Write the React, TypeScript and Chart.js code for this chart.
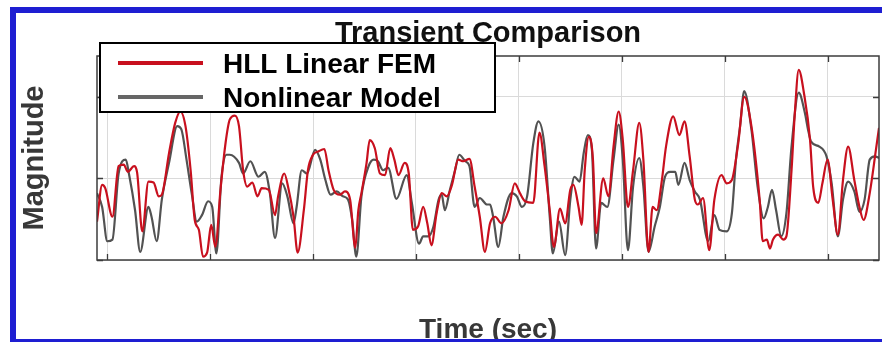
import React, { useEffect, useRef } from "react";
import { Chart, registerables } from "chart.js";

Chart.register(...registerables);

// ---- Data (time in sec, magnitude) ----
const hllTime = [
  -0.1, -0.05, -0.02, 0.05, 0.11, 0.16, 0.2, 0.26, 0.29, 0.34, 0.4, 0.45, 0.5, 0.53, 0.6, 0.66, 0.71, 0.76, 0.81,
  0.85, 0.89, 0.93, 0.97, 1.01, 1.05, 1.1, 1.15, 1.19, 1.24, 1.28, 1.32, 1.36, 1.41, 1.46, 1.5, 1.57, 1.63, 1.66,
  1.72, 1.76, 1.81, 1.85, 1.91, 1.95, 2.0, 2.05, 2.11, 2.15, 2.2, 2.26, 2.31, 2.36, 2.41, 2.44, 2.47, 2.52, 2.55,
  2.6, 2.65, 2.7, 2.75, 2.79, 2.83, 2.89, 2.93, 2.97, 3.02, 3.07, 3.11, 3.15, 3.2, 3.25, 3.3, 3.35, 3.41, 3.46,
  3.52, 3.57, 3.62, 3.67, 3.72, 3.77, 3.83, 3.9, 3.96, 4.01, 4.06, 4.14, 4.2, 4.25, 4.3, 4.34, 4.4, 4.45, 4.5,
  4.53, 4.58, 4.61, 4.64, 4.68, 4.72, 4.75, 4.82, 4.87, 4.92, 4.97, 5.01, 5.06, 5.11, 5.17, 5.21, 5.26, 5.3, 5.34,
  5.39, 5.43, 5.5, 5.56, 5.61, 5.66, 5.71, 5.74, 5.79, 5.85, 5.9, 5.97, 6.02, 6.07, 6.13, 6.19, 6.26, 6.34, 6.37,
  6.41, 6.44, 6.47, 6.52, 6.57, 6.6, 6.65, 6.68, 6.72, 6.77, 6.83, 6.86, 6.91, 6.95, 7.0, 7.05, 7.1, 7.15, 7.2,
  7.26, 7.31, 7.35, 7.41, 7.47, 7.5,
];
const hllMag = [
  0.47, 0.92, 0.88, 0.53, 1.15, 1.17, 1.08, 1.15, 1.07, 0.35, 0.96, 0.95, 0.78, 0.8, 1.31, 1.68, 1.82, 1.64, 1.1,
  0.49, 0.37, 0.04, 0.09, 0.43, 0.16, 0.86, 1.44, 1.72, 1.77, 1.64, 1.1, 0.9, 0.95, 0.78, 0.88, 0.86, 0.55, 0.78,
  1.06, 0.88, 0.53, 0.09, 0.61, 1.1, 1.29, 1.33, 1.36, 1.1, 0.86, 0.8, 0.84, 0.74, 0.15, 0.61, 0.82, 1.19, 1.47,
  1.37, 1.06, 1.04, 1.37, 1.23, 1.04, 1.19, 1.06, 0.37, 0.41, 0.65, 0.45, 0.18, 0.57, 0.82, 0.78, 0.92, 1.23, 1.21,
  1.24, 0.9, 0.53, 0.1, 0.45, 0.53, 0.45, 0.61, 0.94, 0.82, 0.72, 0.7, 1.56, 1.15, 0.61, 0.16, 0.63, 0.45, 0.86,
  0.92, 0.65, 0.43, 1.1, 1.51, 1.23, 0.33, 1.0, 0.78, 1.39, 1.82, 1.47, 0.65, 1.1, 1.68, 1.23, 0.1, 0.65, 0.61,
  0.98, 1.39, 1.76, 1.53, 1.7, 1.27, 0.74, 0.68, 0.76, 0.12, 0.74, 1.04, 0.94, 0.98, 1.41, 2.0, 1.64, 0.74, 0.23,
  0.25, 0.14, 0.25, 0.31, 0.25, 0.29, 1.1, 1.76, 2.33, 2.05, 1.47, 0.9, 0.7, 0.94, 1.23, 0.74, 0.31, 0.98, 1.39,
  0.98, 0.65, 0.49, 0.82, 1.35, 1.62,
];

const nlTime = [
  -0.1, -0.05, 0.0, 0.05, 0.11, 0.18, 0.21, 0.27, 0.32, 0.4, 0.43, 0.48, 0.53, 0.6, 0.68, 0.72, 0.77, 0.82, 0.87,
  0.92, 0.98, 1.02, 1.06, 1.11, 1.16, 1.19, 1.28, 1.32, 1.39, 1.47, 1.53, 1.58, 1.63, 1.7, 1.75, 1.81, 1.84, 1.89,
  1.94, 2.02, 2.07, 2.12, 2.17, 2.23, 2.29, 2.34, 2.38, 2.42, 2.47, 2.54, 2.59, 2.63, 2.68, 2.73, 2.81, 2.91, 2.96,
  3.03, 3.07, 3.12, 3.17, 3.22, 3.25, 3.28, 3.33, 3.38, 3.42, 3.48, 3.52, 3.57, 3.62, 3.69, 3.72, 3.75, 3.8, 3.85,
  3.93, 3.98, 4.03, 4.08, 4.14, 4.19, 4.25, 4.3, 4.33, 4.39, 4.45, 4.5, 4.54, 4.59, 4.63, 4.67, 4.71, 4.75, 4.8,
  4.86, 4.92, 4.97, 5.01, 5.06, 5.11, 5.17, 5.21, 5.26, 5.32, 5.37, 5.42, 5.47, 5.52, 5.55, 5.61, 5.66, 5.71, 5.76,
  5.84, 5.9, 5.95, 6.02, 6.07, 6.11, 6.15, 6.19, 6.26, 6.32, 6.38, 6.42, 6.46, 6.5, 6.55, 6.6, 6.65, 6.72, 6.78,
  6.81, 6.84, 6.92, 6.99, 7.04, 7.1, 7.15, 7.2, 7.26, 7.31, 7.36, 7.41, 7.46, 7.5,
];
const nlMag = [
  0.82, 0.65, 0.23, 0.25, 1.06, 1.23, 1.06, 0.61, 0.1, 0.65, 0.53, 0.23, 0.74, 1.19, 1.64, 1.6, 1.23, 0.82, 0.47,
  0.55, 0.72, 0.65, 0.08, 1.02, 1.29, 1.29, 1.19, 1.06, 1.21, 1.02, 1.08, 0.82, 0.27, 0.94, 0.78, 0.45, 0.65, 1.1,
  1.06, 1.35, 1.23, 0.98, 0.8, 0.84, 0.78, 0.74, 0.49, 0.04, 0.78, 1.15, 1.23, 1.21, 1.1, 1.13, 0.75, 1.04, 0.7,
  0.2, 0.29, 0.29, 0.41, 0.74, 0.8, 0.61, 0.86, 1.1, 1.29, 1.21, 1.15, 0.65, 0.76, 0.68, 0.68, 0.53, 0.16, 0.53,
  0.82, 0.78, 0.65, 0.78, 1.43, 1.7, 1.39, 0.53, 0.08, 0.47, 0.06, 0.74, 1.02, 0.96, 1.31, 1.53, 1.35, 0.14, 0.7,
  0.65, 1.23, 1.66, 1.23, 0.12, 0.9, 1.25, 0.9, 0.1, 0.41, 0.65, 1.02, 1.08, 1.08, 0.92, 1.19, 0.98, 0.84, 0.74,
  0.23, 0.55, 0.37, 0.35, 0.57, 1.23, 1.64, 2.07, 1.6, 0.9, 0.51, 0.65, 0.86, 0.61, 0.29, 0.57, 1.39, 2.05, 1.8,
  1.6, 1.45, 1.39, 1.27, 0.94, 0.29, 0.74, 0.96, 0.84, 0.59, 0.74, 1.23, 1.27, 1.25,
];

const xTicks = [0, 1, 2, 3, 4, 5, 6, 7];
const yTicks = [0, 1, 2];
const seriesLabels = ["HLL Linear FEM", "Nonlinear Model"];
const titleText = "Transient Comparison";
const xLabel = "Time (sec)";
const yLabel = "Magnitude";

const RED = "#c8101e";
const GRAY = "#525252";
const FONT = '"Liberation Sans", Arial, Helvetica, sans-serif';

const decorPlugin = {
  id: "decor",
  afterDraw(chart: any) {
    const ctx = chart.ctx as CanvasRenderingContext2D;
    const { left, right, top, bottom } = chart.chartArea;
    const xs = chart.scales.x;
    const ys = chart.scales.y;
    ctx.save();
    // plot box
    ctx.strokeStyle = "#3c3c3c";
    ctx.lineWidth = 1.5;
    ctx.strokeRect(left, top, right - left, bottom - top);
    // inward ticks
    ctx.lineWidth = 1.3;
    xTicks.forEach((v) => {
      const px = Math.round(xs.getPixelForValue(v)) + 0.5;
      ctx.beginPath();
      ctx.moveTo(px, bottom);
      ctx.lineTo(px, bottom - 6);
      ctx.moveTo(px, top);
      ctx.lineTo(px, top + 6);
      ctx.stroke();
    });
    yTicks.forEach((v) => {
      const py = Math.round(ys.getPixelForValue(v)) + 0.5;
      ctx.beginPath();
      ctx.moveTo(left, py);
      ctx.lineTo(left + 6, py);
      ctx.moveTo(right, py);
      ctx.lineTo(right - 6, py);
      ctx.stroke();
    });
    const cx = (left + right) / 2;
    const cy = (top + bottom) / 2;
    // title
    ctx.fillStyle = "#111";
    ctx.font = `bold 29px ${FONT}`;
    ctx.textAlign = "center";
    ctx.textBaseline = "alphabetic";
    ctx.fillText(titleText, cx, top - 14);
    // x label
    ctx.fillStyle = "#383838";
    ctx.font = `bold 28px ${FONT}`;
    ctx.fillText(xLabel, cx, bottom + 78);
    // y label
    ctx.save();
    ctx.translate(left - 54, cy);
    ctx.rotate(-Math.PI / 2);
    ctx.font = `bold 29px ${FONT}`;
    ctx.fillText(yLabel, 0, 0);
    ctx.restore();
    // legend
    const lx = left + 3;
    const ly = top - 13;
    const lw = 395;
    const lh = 69;
    ctx.fillStyle = "#ffffff";
    ctx.fillRect(lx, ly, lw, lh);
    ctx.strokeStyle = "#000";
    ctx.lineWidth = 2;
    ctx.strokeRect(lx, ly, lw, lh);
    const rows = [ly + 20, ly + 54];
    chart.data.datasets.forEach((ds: any, i: number) => {
      const ry = rows[i];
      ctx.strokeStyle = i === 0 ? ds.borderColor : "#666666";
      ctx.lineWidth = 4;
      ctx.beginPath();
      ctx.moveTo(lx + 18, ry);
      ctx.lineTo(lx + 103, ry);
      ctx.stroke();
      ctx.fillStyle = "#000";
      ctx.font = `bold 28px ${FONT}`;
      ctx.textAlign = "left";
      ctx.textBaseline = "alphabetic";
      ctx.fillText(ds.label, lx + 123, ry + 10);
    });
    ctx.restore();
  },
};

export default function App() {
  const ref = useRef<HTMLCanvasElement | null>(null);
  useEffect(() => {
    if (!ref.current) return;
    const chart = new Chart(ref.current, {
      type: "line",
      data: {
        datasets: [
          {
            label: seriesLabels[0],
            data: hllTime.map((t, i) => ({ x: t, y: hllMag[i] })),
            borderColor: RED,
            borderWidth: 2.2,
            pointRadius: 0,
            cubicInterpolationMode: "monotone",
            fill: false,
          },
          {
            label: seriesLabels[1],
            data: nlTime.map((t, i) => ({ x: t, y: nlMag[i] })),
            borderColor: GRAY,
            borderWidth: 2.2,
            pointRadius: 0,
            cubicInterpolationMode: "monotone",
            fill: false,
          },
        ],
      },
      options: {
        animation: false,
        responsive: false,
        events: [],
        layout: { padding: { left: 97, top: 56, right: 3, bottom: 82 } },
        plugins: {
          legend: { display: false },
          title: { display: false },
          tooltip: { enabled: false },
        },
        scales: {
          x: {
            type: "linear",
            min: -0.1,
            max: 7.5,
            afterBuildTicks: (s: any) => {
              s.ticks = xTicks.map((v) => ({ value: v }));
            },
            ticks: { display: false },
            grid: { color: "#dadada", lineWidth: 1, drawTicks: false },
            border: { display: false },
          },
          y: {
            type: "linear",
            min: 0,
            max: 2.5,
            afterBuildTicks: (s: any) => {
              s.ticks = yTicks.map((v) => ({ value: v }));
            },
            ticks: { display: false },
            grid: { color: "#dadada", lineWidth: 1, drawTicks: false },
            border: { display: false },
          },
        },
      },
      plugins: [decorPlugin],
    });
    return () => chart.destroy();
  }, []);

  return (
    <div
      style={{
        position: "fixed",
        left: 0,
        top: 0,
        width: 882,
        height: 342,
        overflow: "hidden",
        background: "#fff",
      }}
    >
      <canvas
        ref={ref}
        width={882}
        height={342}
        style={{ position: "absolute", left: 0, top: 0, width: 882, height: 342, display: "block" }}
      />
      <div
        style={{
          position: "absolute",
          left: 10,
          top: 7,
          width: 1000,
          height: 338,
          border: "6px solid #1e1ed2",
          boxSizing: "border-box",
          pointerEvents: "none",
        }}
      />
    </div>
  );
}
